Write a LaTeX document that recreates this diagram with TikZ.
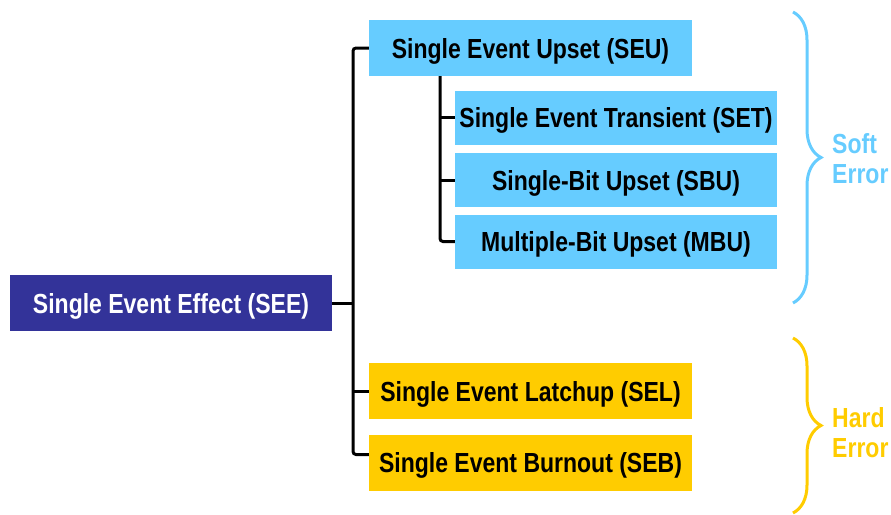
\documentclass[tikz,border=0pt]{standalone}
\usepackage{fontspec}
\setmainfont{Liberation Sans}
\usetikzlibrary{decorations.pathreplacing}
\definecolor{seeblue}{HTML}{333399}
\definecolor{softblue}{HTML}{66CCFF}
\definecolor{hardgold}{HTML}{FFCC00}
% narrow, tall lettering
\newcommand{\tallText}[1]{\scalebox{1}[1.2]{#1}}
\begin{document}
\begin{tikzpicture}[x=1pt,y=-1pt,
  box/.style={rectangle, inner sep=0pt, minimum width=323pt, minimum height=56pt,
    text height=26pt, text depth=6pt,
    font=\fontsize{23}{27}\selectfont\bfseries},
  rootbox/.style={box, fill=seeblue, text=white, minimum width=322pt},
  softbox/.style={box, fill=softblue, text=black},
  subbox/.style={softbox, minimum width=322pt, minimum height=54pt},
  hardbox/.style={box, fill=hardgold, text=black},
  link/.style={draw=black, line width=3pt, rounded corners=3pt},
  groupbrace/.style={line width=3pt, decorate,
    decoration={brace, amplitude=28pt}},
  grouplabel/.style={anchor=north west, align=left, inner sep=0pt,
    font=\fontsize{23}{30}\selectfont\bfseries}
]
\useasboundingbox (0,0) rectangle (891,514);

% boxes
\node[rootbox] (see) at (171,303) {\tallText{Single Event Effect (SEE)}};
\node[softbox] (seu) at (530.5,48) {\tallText{Single Event Upset (SEU)}};
\node[subbox]  (set) at (616,117.5) {\tallText{Single Event Transient (SET)}};
\node[subbox]  (sbu) at (616,180) {\tallText{Single-Bit Upset (SBU)}};
\node[subbox]  (mbu) at (616,241.5) {\tallText{Multiple-Bit Upset (MBU)}};
\node[hardbox] (sel) at (530.5,391) {\tallText{Single Event Latchup (SEL)}};
\node[hardbox] (seb) at (530.5,462.5) {\tallText{Single Event Burnout (SEB)}};

% main trunk
\coordinate (trunk) at (353,0);
\draw[link] (seu.west) -| (trunk |- see.east) |- ([yshift=8pt]seb.west);
\draw[link] (see.east) -- (trunk |- see.east);
\draw[link] (trunk |- sel.west) -- (sel.west);

% SEU sub-trunk
\coordinate (subtrunk) at (440,0);
\draw[link] (subtrunk |- seu.south) |- (mbu.west);
\draw[link] (subtrunk |- set.west) -- (set.west);
\draw[link] (subtrunk |- sbu.west) -- (sbu.west);

% group braces
\coordinate (softtop) at (793,12);
\coordinate (softbot) at (793,303);
\coordinate (hardtop) at (793,338);
\coordinate (hardbot) at (793,513);
\draw[groupbrace, softblue] (softtop) -- (softbot);
\draw[groupbrace, hardgold] (hardtop) -- (hardbot);

\node[grouplabel, text=softblue] (soft) at (832,133) {\tallText{Soft}\\\tallText{Error}};
\node[grouplabel, text=hardgold] (hard) at (832,407) {\tallText{Hard}\\\tallText{Error}};
\end{tikzpicture}
\end{document}
